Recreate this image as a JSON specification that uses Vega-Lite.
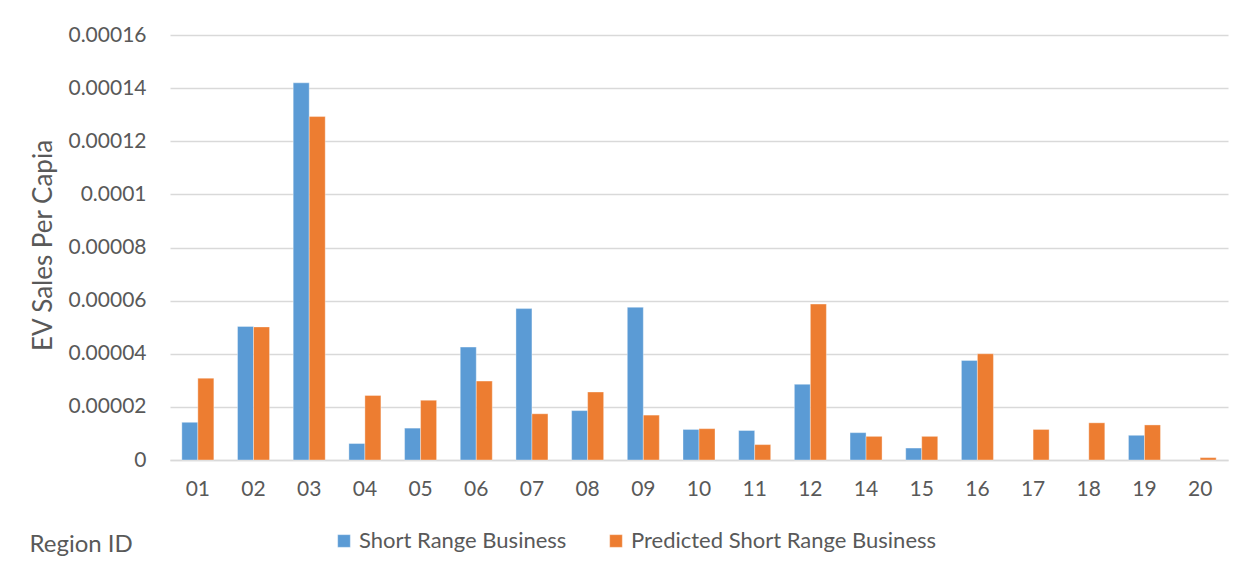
{
  "$schema": "https://vega.github.io/schema/vega-lite/v6.json",
  "width": 1058,
  "height": 425,
  "autosize": {"type": "none"},
  "padding": {"left": 170, "top": 35, "right": 25, "bottom": 113},
  "background": "#ffffff",
  "data": {
    "values": [
      {"region": "01", "series": "Short Range Business", "value": 0.0000142},
      {"region": "01", "series": "Predicted Short Range Business", "value": 0.0000308},
      {"region": "02", "series": "Short Range Business", "value": 0.0000503},
      {"region": "02", "series": "Predicted Short Range Business", "value": 0.0000501},
      {"region": "03", "series": "Short Range Business", "value": 0.000142},
      {"region": "03", "series": "Predicted Short Range Business", "value": 0.0001293},
      {"region": "04", "series": "Short Range Business", "value": 0.0000062},
      {"region": "04", "series": "Predicted Short Range Business", "value": 0.0000243},
      {"region": "05", "series": "Short Range Business", "value": 0.000012},
      {"region": "05", "series": "Predicted Short Range Business", "value": 0.0000225},
      {"region": "06", "series": "Short Range Business", "value": 0.0000425},
      {"region": "06", "series": "Predicted Short Range Business", "value": 0.0000297},
      {"region": "07", "series": "Short Range Business", "value": 0.000057},
      {"region": "07", "series": "Predicted Short Range Business", "value": 0.0000174},
      {"region": "08", "series": "Short Range Business", "value": 0.0000186},
      {"region": "08", "series": "Predicted Short Range Business", "value": 0.0000256},
      {"region": "09", "series": "Short Range Business", "value": 0.0000575},
      {"region": "09", "series": "Predicted Short Range Business", "value": 0.0000169},
      {"region": "10", "series": "Short Range Business", "value": 0.0000115},
      {"region": "10", "series": "Predicted Short Range Business", "value": 0.0000118},
      {"region": "11", "series": "Short Range Business", "value": 0.0000111},
      {"region": "11", "series": "Predicted Short Range Business", "value": 0.0000058},
      {"region": "12", "series": "Short Range Business", "value": 0.0000285},
      {"region": "12", "series": "Predicted Short Range Business", "value": 0.0000587},
      {"region": "14", "series": "Short Range Business", "value": 0.0000103},
      {"region": "14", "series": "Predicted Short Range Business", "value": 0.0000089},
      {"region": "15", "series": "Short Range Business", "value": 0.0000045},
      {"region": "15", "series": "Predicted Short Range Business", "value": 0.0000089},
      {"region": "16", "series": "Short Range Business", "value": 0.0000375},
      {"region": "16", "series": "Predicted Short Range Business", "value": 0.00004},
      {"region": "17", "series": "Predicted Short Range Business", "value": 0.0000115},
      {"region": "18", "series": "Predicted Short Range Business", "value": 0.000014},
      {"region": "19", "series": "Short Range Business", "value": 0.0000093},
      {"region": "19", "series": "Predicted Short Range Business", "value": 0.0000132},
      {"region": "20", "series": "Predicted Short Range Business", "value": 0.0000009}
    ]
  },
  "mark": {"type": "bar"},
  "encoding": {
    "x": {
      "field": "region",
      "type": "nominal",
      "sort": ["01","02","03","04","05","06","07","08","09","10","11","12","14","15","16","17","18","19","20"],
      "scale": {"paddingInner": 0.425, "paddingOuter": 0.2125},
      "axis": {
        "title": "Region ID",
        "titleAnchor": "start",
        "titleAlign": "left",
        "titleBaseline": "alphabetic",
        "titleX": -141,
        "titleY": 91,
        "titleFont": "Lato",
        "titleFontSize": 24,
        "titleFontWeight": "normal",
        "titleColor": "#595959",
        "labelAngle": 0,
        "labelFont": "Lato",
        "labelFontSize": 21,
        "labelColor": "#595959",
        "labelPadding": 18,
        "ticks": false,
        "domainColor": "#D9D9D9",
        "domainWidth": 1.5,
        "grid": false
      }
    },
    "xOffset": {
      "field": "series",
      "type": "nominal",
      "sort": ["Short Range Business", "Predicted Short Range Business"],
      "scale": {"paddingInner": 0, "paddingOuter": 0}
    },
    "y": {
      "field": "value",
      "type": "quantitative",
      "scale": {"domain": [0, 0.00016], "nice": false, "zero": true},
      "axis": {
        "title": "EV Sales Per Capia",
        "titleFont": "Lato",
        "titleFontSize": 26,
        "titleFontWeight": "normal",
        "titleColor": "#595959",
        "titleAngle": -90,
        "titleAlign": "center",
        "titleBaseline": "middle",
        "titleX": -127,
        "titleY": 210,
        "values": [0, 0.00002, 0.00004, 0.00006, 0.00008, 0.0001, 0.00012, 0.00014, 0.00016],
        "format": "~g",
        "labelFont": "Lato",
        "labelFontSize": 21,
        "labelColor": "#595959",
        "labelPadding": 24,
        "ticks": false,
        "domain": false,
        "grid": true,
        "gridColor": "#D9D9D9",
        "gridWidth": 1.5
      }
    },
    "color": {
      "field": "series",
      "type": "nominal",
      "sort": ["Short Range Business", "Predicted Short Range Business"],
      "scale": {
        "domain": ["Short Range Business", "Predicted Short Range Business"],
        "range": ["#5B9BD5", "#ED7D31"]
      },
      "legend": {
        "title": null,
        "orient": "none",
        "direction": "horizontal",
        "legendX": 163,
        "legendY": 495,
        "symbolType": "square",
        "symbolSize": 160,
        "symbolStrokeWidth": 0,
        "symbolOpacity": 1,
        "labelFont": "Lato",
        "labelFontSize": 22,
        "labelColor": "#595959",
        "labelOffset": 4,
        "labelLimit": 0,
        "columnPadding": 38
      }
    }
  },
  "config": {
    "view": {"stroke": null},
    "bar": {"stroke": "#ffffff", "strokeWidth": 0.6, "strokeOpacity": 0.6}
  }
}
